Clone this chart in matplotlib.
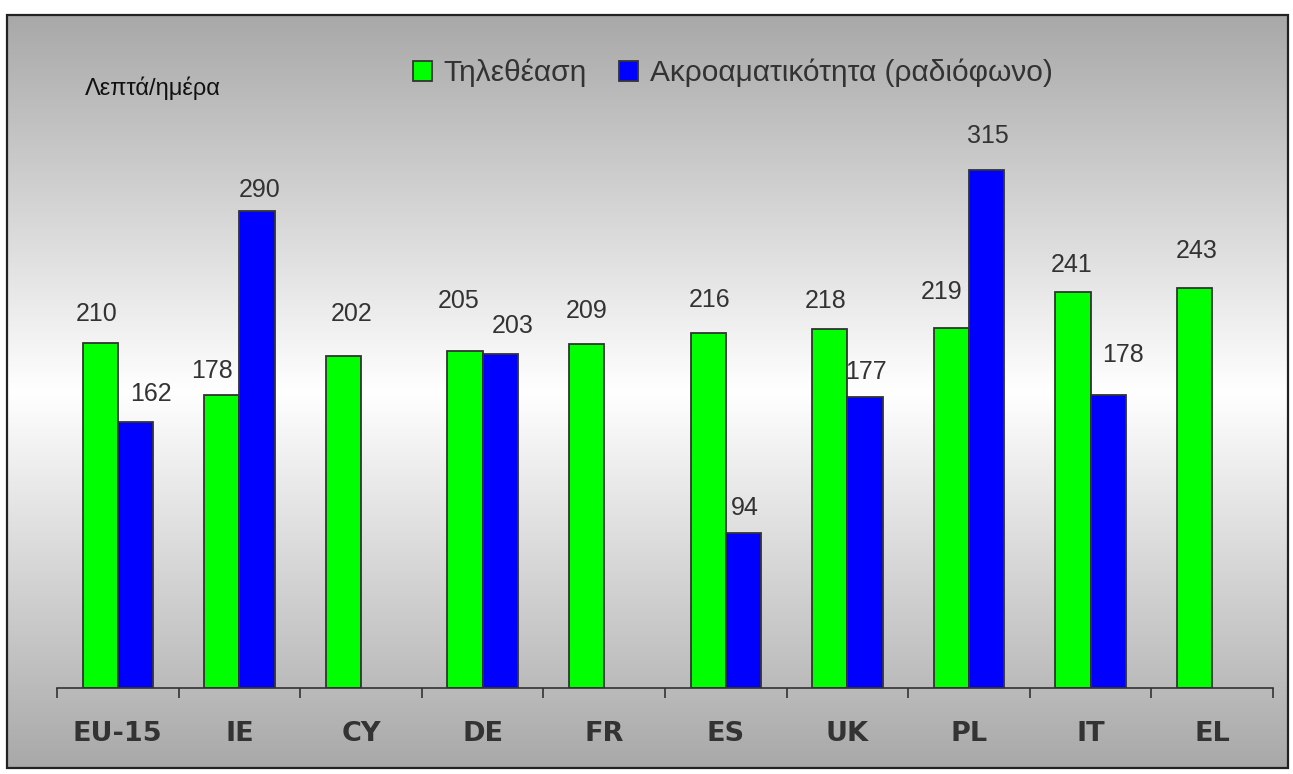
import numpy as np
import matplotlib
matplotlib.use("Agg")
import matplotlib.pyplot as plt
from matplotlib.patches import Patch, Rectangle

# ---------------- data ----------------
categories = ["EU-15", "IE", "CY", "DE", "FR", "ES", "UK", "PL", "IT", "EL"]
tv_minutes = [210, 178, 202, 205, 209, 216, 218, 219, 241, 243]
radio_minutes = [162, 290, np.nan, 203, np.nan, 94, 177, 315, 178, np.nan]
series_names = ["Τηλεθέαση", "Ακροαματικότητα (ραδιόφωνο)"]
unit_label = "Λεπτά/ημέρα"

# ---------------- layout / style ----------------
W, H = 1293, 774
TXT = "#333333"
GREEN = "#00ff00"
BLUE = "#0000ff"
EDGE = "#333333"
bar_w = 0.29
# label offsets (pixels) relative to (bar centre, bar top): (dx, dy up)
tv_label_off = [(-4, 29), (-10, 24), (8, 42), (-6, 50), (0, 33),
                (1, 33), (-4, 28), (-10, 36), (-1, 27), (2, 37)]
radio_label_off = [(16, 28), (3, 21), (0, 0), (12, 28), (0, 0),
                   (1, 25), (1, 25), (1, 34), (15, 40), (0, 0)]

fig = plt.figure(figsize=(W / 100, H / 100), dpi=100)
fig.patch.set_facecolor("white")

# gradient background panel with frame
fx0, fx1, fy0, fy1 = 7, 1288, 15, 768   # pixels (y from top)
bg = fig.add_axes([fx0 / W, 1 - fy1 / H, (fx1 - fx0) / W, (fy1 - fy0) / H], zorder=0)
t = np.linspace(0, 1, 400)
edge_gray = 0.66
vals = 1 - (1 - edge_gray) * np.abs(t - 0.5) * 2
grad = np.dstack([vals, vals, vals])[0][:, None, :]
grad = np.repeat(grad, 2, axis=1)
bg.imshow(grad, aspect="auto", extent=[0, 1, 0, 1], interpolation="bilinear")
bg.set_xlim(0, 1)
bg.set_ylim(0, 1)
bg.set_axis_off()
bg.add_patch(Rectangle((0, 0), 1, 1, transform=bg.transAxes, fill=False,
                       edgecolor="#222222", linewidth=1.6, clip_on=False))

# main axes
ax_l, ax_r, ax_b = 57, 1273, 688
px_per_unit = 1.645
ytop = 380
ax_t = ax_b - ytop * px_per_unit
ax = fig.add_axes([ax_l / W, 1 - ax_b / H, (ax_r - ax_l) / W, (ax_b - ax_t) / H], zorder=1)
ax.patch.set_alpha(0)
ax.set_xlim(-0.5, len(categories) - 0.5)
ax.set_ylim(0, ytop)

x = np.arange(len(categories))
tv_bars = ax.bar(x - bar_w / 2, tv_minutes, bar_w, color=GREEN, edgecolor=EDGE, linewidth=1.3)
radio_bars = ax.bar(x + bar_w / 2, radio_minutes, bar_w, color=BLUE, edgecolor=EDGE, linewidth=1.3)

for xi, v, (dx, dy) in zip(x, tv_minutes, tv_label_off):
    ax.annotate(f"{v:g}", xy=(xi - bar_w / 2, v), xytext=(dx, dy), textcoords="offset pixels",
                ha="center", va="center", fontsize=18, color=TXT, family="Liberation Sans")
for xi, v, (dx, dy) in zip(x, radio_minutes, radio_label_off):
    if np.isnan(v):
        continue
    ax.annotate(f"{v:g}", xy=(xi + bar_w / 2, v), xytext=(dx, dy), textcoords="offset pixels",
                ha="center", va="center", fontsize=18, color=TXT, family="Liberation Sans")

for s in ["top", "left", "right"]:
    ax.spines[s].set_visible(False)
ax.spines["bottom"].set_color(EDGE)
ax.spines["bottom"].set_linewidth(1.2)
ax.set_yticks([])
ax.set_xticks(x)
ax.set_xticklabels(categories, fontsize=19.5, fontweight="bold", color=TXT, family="DejaVu Sans")
ax.set_xticks(np.arange(-0.5, len(categories), 1.0), minor=True)
ax.tick_params(axis="x", which="major", length=0, pad=24)
ax.tick_params(axis="x", which="minor", length=7, width=1.2, color=EDGE, direction="out")

# unit label
fig.text(85 / W, 1 - 88 / H, unit_label, ha="left", va="center", fontsize=17,
         color="#111111", family="Liberation Sans")

# legend
handles = [Patch(facecolor=GREEN, edgecolor=EDGE, linewidth=1.3),
           Patch(facecolor=BLUE, edgecolor=EDGE, linewidth=1.3)]
leg = fig.legend(handles, series_names, loc="center left", bbox_to_anchor=(413 / W, 1 - 73 / H),
                 ncol=2, frameon=False, handlelength=0.64, handleheight=0.67,
                 handletextpad=0.37, columnspacing=1.1, borderpad=0, borderaxespad=0,
                 prop={"family": "Liberation Sans", "size": 21.5})
for txt in leg.get_texts():
    txt.set_color(TXT)

fig.savefig("out.png", dpi=100)
